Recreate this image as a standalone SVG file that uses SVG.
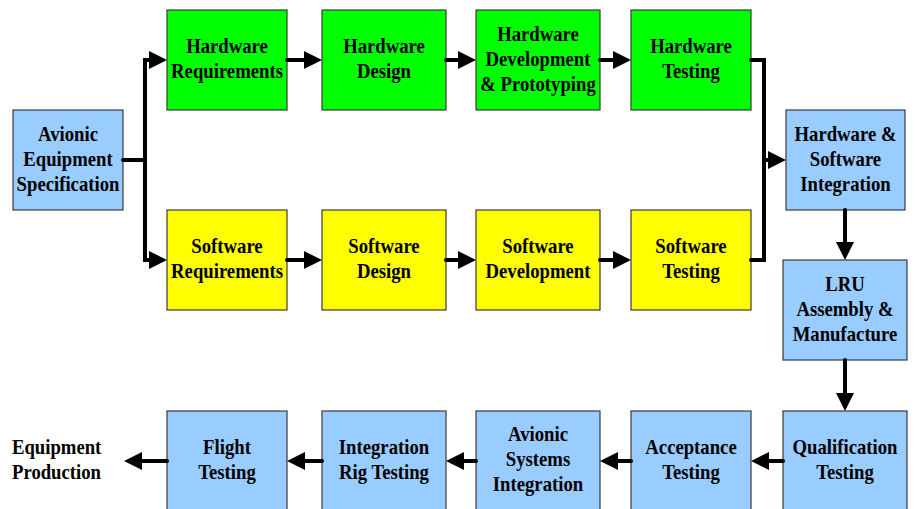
<svg xmlns="http://www.w3.org/2000/svg" width="915" height="509" viewBox="0 0 915 509">
<style>
.box{stroke:#3a3a3a;stroke-width:1.2}
.g{fill:#00FF00}
.y{fill:#FFFF00}
.b{fill:#99CCFF}
text{font-family:"Liberation Serif","Times New Roman",serif;font-weight:bold;font-size:21.5px;fill:#000;text-anchor:middle}
.conn path{fill:none;stroke:#000;stroke-width:4;stroke-linecap:round;stroke-linejoin:miter;marker-end:url(#ah)}
.conn path.nm{marker-end:none}
</style>
<defs>
<marker id="ah" markerUnits="userSpaceOnUse" markerWidth="20" markerHeight="20" refX="0" refY="9" orient="auto" overflow="visible">
<path d="M0,0 L18,9 L0,18 z" fill="#000"/>
</marker>
</defs>
<rect width="915" height="509" fill="#fff"/>

<g id="spec"><rect class="box b" x="13" y="110" width="110" height="100"/>
<g transform="translate(68 0) scale(0.87 1)"><text y="141">Avionic</text><text y="166">Equipment</text><text y="191">Specification</text></g></g>

<g id="hw-req"><rect class="box g" x="167" y="10" width="120" height="100"/>
<g transform="translate(227 0) scale(0.87 1)"><text y="53">Hardware</text><text y="78">Requirements</text></g></g>
<g id="hw-design"><rect class="box g" x="322" y="10" width="124" height="100"/>
<g transform="translate(384 0) scale(0.87 1)"><text y="53">Hardware</text><text y="78">Design</text></g></g>
<g id="hw-dev"><rect class="box g" x="476" y="10" width="124" height="100"/>
<g transform="translate(538 0) scale(0.87 1)"><text y="41">Hardware</text><text y="66">Development</text><text y="91">&amp; Prototyping</text></g></g>
<g id="hw-test"><rect class="box g" x="631" y="10" width="120" height="100"/>
<g transform="translate(691 0) scale(0.87 1)"><text y="53">Hardware</text><text y="78">Testing</text></g></g>

<g id="sw-req"><rect class="box y" x="167" y="210" width="120" height="100"/>
<g transform="translate(227 0) scale(0.87 1)"><text y="253">Software</text><text y="278">Requirements</text></g></g>
<g id="sw-design"><rect class="box y" x="322" y="210" width="124" height="100"/>
<g transform="translate(384 0) scale(0.87 1)"><text y="253">Software</text><text y="278">Design</text></g></g>
<g id="sw-dev"><rect class="box y" x="476" y="210" width="124" height="100"/>
<g transform="translate(538 0) scale(0.87 1)"><text y="253">Software</text><text y="278">Development</text></g></g>
<g id="sw-test"><rect class="box y" x="631" y="210" width="120" height="100"/>
<g transform="translate(691 0) scale(0.87 1)"><text y="253">Software</text><text y="278">Testing</text></g></g>

<g id="hs-int"><rect class="box b" x="786" y="110" width="119" height="100"/>
<g transform="translate(845.5 0) scale(0.87 1)"><text y="141">Hardware &amp;</text><text y="166">Software</text><text y="191">Integration</text></g></g>
<g id="lru"><rect class="box b" x="783" y="260" width="124" height="100"/>
<g transform="translate(845 0) scale(0.87 1)"><text y="291">LRU</text><text y="316">Assembly &amp;</text><text y="341">Manufacture</text></g></g>

<g id="qual"><rect class="box b" x="783" y="411" width="124" height="100"/>
<g transform="translate(845 0) scale(0.87 1)"><text y="454">Qualification</text><text y="479">Testing</text></g></g>
<g id="accept"><rect class="box b" x="631" y="411" width="120" height="100"/>
<g transform="translate(691 0) scale(0.87 1)"><text y="454">Acceptance</text><text y="479">Testing</text></g></g>
<g id="av-sys"><rect class="box b" x="476" y="411" width="124" height="100"/>
<g transform="translate(538 0) scale(0.87 1)"><text y="441">Avionic</text><text y="466">Systems</text><text y="491">Integration</text></g></g>
<g id="rig"><rect class="box b" x="322" y="411" width="124" height="100"/>
<g transform="translate(384 0) scale(0.87 1)"><text y="454">Integration</text><text y="479">Rig Testing</text></g></g>
<g id="flight"><rect class="box b" x="167" y="411" width="120" height="100"/>
<g transform="translate(227 0) scale(0.87 1)"><text y="454">Flight</text><text y="479">Testing</text></g></g>
<g id="production">
<g transform="translate(12 0) scale(0.87 1)"><text y="454" style="text-anchor:start">Equipment</text><text y="479" style="text-anchor:start">Production</text></g></g>

<g class="conn" id="connectors">
<path class="nm" d="M123,160 H145"/>
<path d="M145,160 V60 H149"/>
<path d="M145,160 V260 H149"/>
<path d="M287,60 H304"/>
<path d="M446,60 H458"/>
<path d="M600,60 H613"/>
<path d="M287,260 H304"/>
<path d="M446,260 H458"/>
<path d="M600,260 H613"/>
<path class="nm" d="M751,60 H764 V260 H751"/>
<path d="M764,160 H768"/>
<path d="M845,210 V242"/>
<path d="M845,360 V393"/>
<path d="M783,461 H769"/>
<path d="M631,461 H618"/>
<path d="M476,461 H464"/>
<path d="M322,461 H305"/>
<path d="M167,461 H142"/>
</g>
</svg>
